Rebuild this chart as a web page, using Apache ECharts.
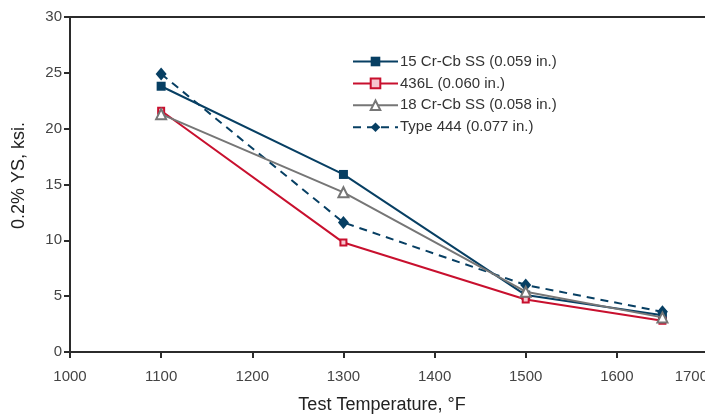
<!DOCTYPE html>
<html>
<head>
<meta charset="utf-8">
<script src="https://cdn.jsdelivr.net/npm/echarts@6/dist/echarts.min.js"></script>
<style>
  html, body { margin: 0; padding: 0; background: #fff; }
  #chart { width: 705px; height: 414px; }
</style>
</head>
<body>
<div id="chart"></div>
<script>
const temps = [1100, 1300, 1500, 1650]
const seriesNames = ['15 Cr-Cb SS (0.059 in.)', '436L (0.060 in.)', '18 Cr-Cb SS (0.058 in.)', 'Type 444 (0.077 in.)']
const crCb15 = [23.8, 15.9, 5.1, 3.3]
const l436 = [21.6, 9.8, 4.7, 2.8]
const crCb18 = [21.3, 14.3, 5.4, 3.1]
const type444 = [24.9, 11.6, 6.0, 3.6]

const navy = '#073f63'
const red = '#c8102e'
const grey = '#767676'
const font = 'Liberation Sans, Arial, sans-serif'

function pairs (vals) {
  return temps.map((t, i) => [t, vals[i]])
}

const chart = echarts.init(document.getElementById('chart'))
const option = {
  animation: false,
  textStyle: { fontFamily: font },
  legend: {
    orient: 'vertical',
    left: 352,
    top: 54,
    padding: 0,
    itemWidth: 45,
    itemHeight: 12,
    itemGap: 6.9,
    textStyle: { fontSize: 15, color: '#333', padding: [0, 0, 0, -3] },
    data: seriesNames
  },
  grid: { left: 70, right: -3, top: 17, bottom: 62, outerBoundsMode: 'none' },
  xAxis: [{
    type: 'value',
    min: 1000,
    max: 1700,
    interval: 100,
    name: 'Test Temperature, °F',
    nameLocation: 'middle',
    nameGap: 44,
    nameTextStyle: { fontSize: 18, color: '#222', padding: [0, 14, 0, 0] },
    axisLine: { lineStyle: { color: '#2b2b2b', width: 2 } },
    axisTick: { show: true, length: 6, lineStyle: { color: '#2b2b2b', width: 2 } },
    axisLabel: { fontSize: 15, color: '#444', margin: 17, alignMaxLabel: 'right', formatter: v => String(v) },
    splitLine: { show: false }
  }, {
    type: 'value',
    position: 'top',
    min: 1000,
    max: 1700,
    axisLine: { show: true, onZero: false, lineStyle: { color: '#2b2b2b', width: 2 } },
    axisTick: { show: false },
    axisLabel: { show: false },
    splitLine: { show: false }
  }],
  yAxis: {
    type: 'value',
    min: 0,
    max: 30,
    interval: 5,
    name: '0.2% YS, ksi.',
    nameLocation: 'middle',
    nameGap: 42,
    nameTextStyle: { fontSize: 18, color: '#222', padding: [0, 0, 0, 18] },
    axisLine: { show: true, lineStyle: { color: '#2b2b2b', width: 2 } },
    axisTick: { show: true, length: 6, lineStyle: { color: '#2b2b2b', width: 2 } },
    axisLabel: { fontSize: 15, color: '#444', margin: 8 },
    splitLine: { show: false }
  },
  series: [
    {
      name: seriesNames[0],
      type: 'line',
      data: pairs(crCb15),
      symbol: 'rect',
      symbolSize: 9,
      itemStyle: { color: navy },
      lineStyle: { color: navy, width: 2 },
      z: 3
    },
    {
      name: seriesNames[1],
      type: 'line',
      data: pairs(l436),
      symbol: 'rect',
      symbolSize: 6,
      itemStyle: { color: '#f6c6cf', borderColor: red, borderWidth: 2 },
      lineStyle: { color: red, width: 2 },
      z: 4
    },
    {
      name: seriesNames[2],
      type: 'line',
      data: pairs(crCb18),
      symbol: 'triangle',
      symbolSize: 10,
      itemStyle: { color: '#fff', borderColor: grey, borderWidth: 2 },
      lineStyle: { color: grey, width: 2 },
      z: 5
    },
    {
      name: seriesNames[3],
      type: 'line',
      data: pairs(type444),
      symbol: 'diamond',
      symbolSize: [11, 13],
      itemStyle: { color: navy },
      lineStyle: { color: navy, width: 2, type: [8, 6] },
      z: 2
    }
  ]
}
chart.setOption(option)
</script>
</body>
</html>
